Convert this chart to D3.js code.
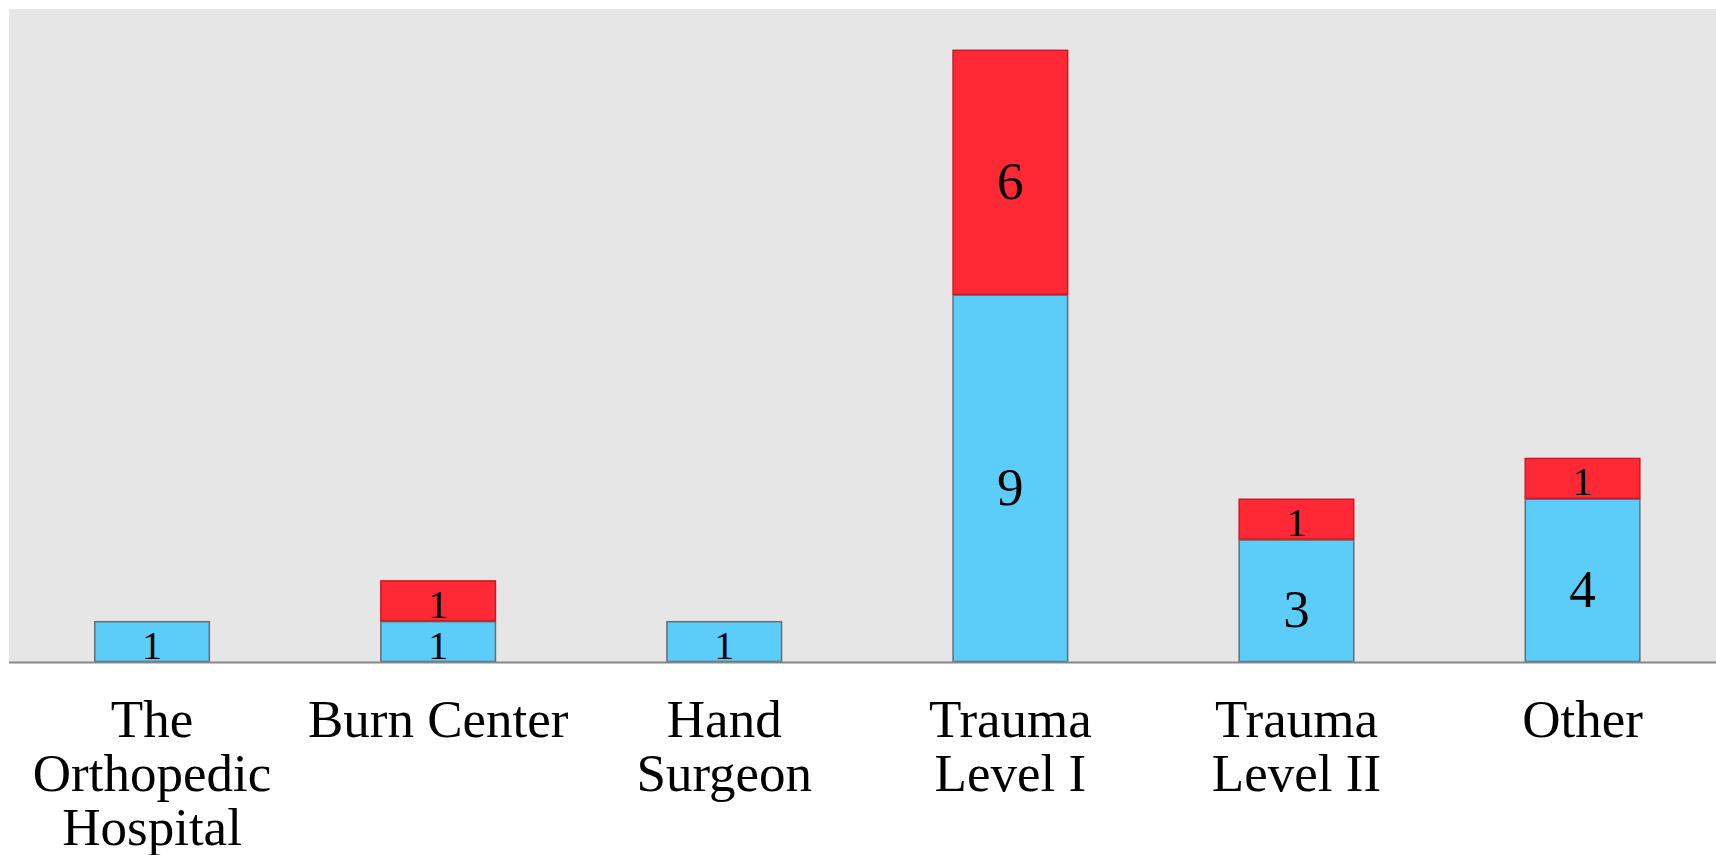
<!DOCTYPE html>
<html>
<head>
<meta charset="utf-8">
<script src="https://cdn.jsdelivr.net/npm/d3@7"></script>
<style>
html,body{margin:0;padding:0;background:#fff;overflow:hidden;}
svg{display:block;}
text{font-family:"Liberation Serif","Times New Roman",serif;fill:#000;}
</style>
</head>
<body>
<svg id="chart" width="1716" height="855"></svg>
<script>
const categories = ["The Orthopedic Hospital","Burn Center","Hand Surgeon","Trauma Level I","Trauma Level II","Other"];
const blueValues = [1,1,1,9,3,4];
const redValues  = [0,1,0,6,1,1];
const seriesNames = ["blue","red"];
const yMax = 16;

const W = 1716, H = 855;
const plot = {left:9, right:1716, top:9, bottom:662};
const svg = d3.select("#chart");

const x = d3.scaleBand().domain(categories).range([plot.left, plot.left + 6*286.1])
  .paddingInner(0.596).paddingOuter(0.298);
const y = d3.scaleLinear().domain([0, yMax]).range([plot.bottom, plot.top]);

svg.append("rect").attr("x", plot.left).attr("y", plot.top)
  .attr("width", plot.right - plot.left).attr("height", plot.bottom - plot.top)
  .attr("fill", "#e6e6e6");

const table = categories.map((c,i)=>({cat:c, blue:blueValues[i], red:redValues[i]}));
const stack = d3.stack().keys(seriesNames)(table);
const fills = {blue:"#5bcdf8", red:"#fe2935"};
const strokes = {blue:"#6b6b6b", red:"#c21d28"};

stack.forEach(layer=>{
  const g = svg.append("g");
  layer.forEach(d=>{
    const v = d[1]-d[0];
    if (v <= 0) return;
    const x0 = x(d.data.cat), bw = x.bandwidth();
    const yt = y(d[1]), yb = y(d[0]);
    g.append("rect").attr("x", x0+0.5).attr("y", yt+0.5)
      .attr("width", bw-1).attr("height", yb-yt-1)
      .attr("fill", fills[layer.key]).attr("stroke", strokes[layer.key]).attr("stroke-width", 1.5);
    const h = yb-yt;
    const fs = Math.min(53, h*0.98);
    g.append("text").attr("x", x0+bw/2).attr("y", (yt+yb)/2 + fs*0.35 + (fs >= 53 ? 8 : 3))
      .attr("text-anchor","middle").attr("font-size", fs).text(v);
  });
});

// axis baseline
svg.append("line").attr("x1", plot.left).attr("x2", plot.right)
  .attr("y1", plot.bottom+0.5).attr("y2", plot.bottom+0.5)
  .attr("stroke", "#888").attr("stroke-width", 2);

// category labels (wrapped)
const xAxis = d3.axisBottom(x).tickSize(0).tickPadding(0);
const ag = svg.append("g").attr("transform", `translate(0,${plot.bottom})`).call(xAxis);
ag.select(".domain").remove();
ag.selectAll(".tick text").each(function(d){
  const t = d3.select(this);
  t.attr("font-size", 53).attr("font-family", null).attr("fill","#000").attr("dy", null).attr("y", 0);
  const words = d.split(" ");
  t.text(null);
  const maxW = x.step();
  let lines = [], line = [];
  const probe = t.append("tspan");
  words.forEach(w=>{
    const test = line.concat([w]).join(" ");
    probe.text(test);
    if (probe.node().getComputedTextLength() > maxW && line.length) {
      lines.push(line.join(" ")); line = [w];
    } else line.push(w);
  });
  lines.push(line.join(" "));
  probe.remove();
  lines.forEach((l,i)=>{
    t.append("tspan").attr("x", 0).attr("y", 75 + i*54).text(l);
  });
});
ag.attr("font-family", null).attr("font-size", null);
</script>
</body>
</html>
